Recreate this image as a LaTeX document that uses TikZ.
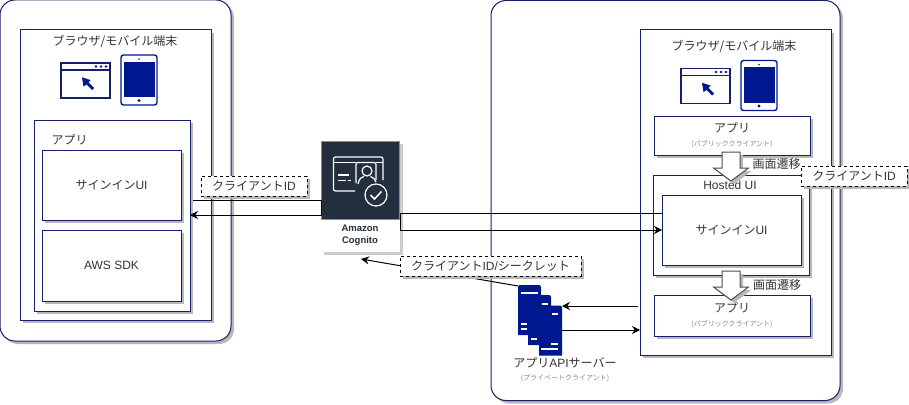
\documentclass[tikz,border=0pt]{standalone}
\usepackage{fontspec}
\setmainfont{Liberation Sans}
\newfontfamily\cjk{Noto Sans CJK JP}
\newcommand{\jp}[1]{{\cjk #1}}
\usepackage{xcolor}
\usetikzlibrary{shapes,arrows.meta,positioning,calc,shadows}
\definecolor{navyline}{HTML}{14206A}
\definecolor{navyfill}{HTML}{00188F}
\definecolor{cogdark}{HTML}{232F3E}
\definecolor{txtgray}{HTML}{333333}
\definecolor{subgray}{HTML}{8A8A8A}

\begin{document}
\begin{tikzpicture}[x=1pt, y=-1pt, >={Stealth[length=8pt,width=8pt]}]
    \tikzstyle{boxshadow} = [drop shadow={shadow xshift=3pt, shadow yshift=-3pt, fill=black!28, opacity=1}]
    \tikzstyle{box} = [rectangle, draw=navyline, line width=1pt, fill=white, inner sep=0pt, outer sep=0pt, anchor=north west, boxshadow, text=txtgray, align=center, font=\fontsize{12}{14}\selectfont]
    \tikzstyle{outer} = [box, rounded corners=15pt]
    \tikzstyle{label} = [inner sep=0pt, text=txtgray, font=\fontsize{12}{14}\selectfont]
    \tikzstyle{tag} = [rectangle, draw=black, dashed, line width=0.8pt, fill=white, inner sep=0pt, outer sep=0pt, anchor=north west, text=txtgray, font=\fontsize{12}{14}\selectfont, boxshadow]
    \tikzstyle{line} = [draw=black, line width=1pt]
    \newcommand{\sub}[1]{\fontsize{7}{8}\selectfont\color{subgray}\jp{#1}}
    \tikzset{
        devices/.pic={
            \draw[navyline, line width=1.1pt, fill=white] (0,8) rectangle (49,43);
            \draw[navyline, line width=1.1pt] (0,15) -- (49,15);
            \foreach \dx in {35,40,45} \fill[navyfill] (\dx,11.5) circle (1.3);
            \fill[navyfill] (21,22.3) -- (29.5,25) -- (27.5,27.5) -- (33,33) -- (31,35) -- (25.5,29.5) -- (22.5,31.5) -- cycle;
            \draw[navyfill, line width=1.4pt, fill=white, rounded corners=2.5pt] (60,0) rectangle (96,50);
            \fill[navyfill] (63,6.5) rectangle (93.5,42);
            \fill[navyfill] (78,4) circle (0.9);
            \fill[navyfill] (78,45.5) circle (1.6);
        },
        blade/.pic={
            \fill[navyfill] (0,50) [rounded corners=2pt] -- (0,0) -- (23,0) [sharp corners] -- (23,50) -- cycle;
        },
        jump/.pic={
            \filldraw[draw=black!70, fill=white, line width=1pt, boxshadow] (-9,0) -- (9,0) -- (9,16) -- (17.5,16) -- (0,29) -- (-17.5,16) -- (-9,16) -- cycle;
        }
    }

    \useasboundingbox (0,0) rectangle (909,404);

    % left side
    \node [outer, minimum width=231pt, minimum height=341pt] (clientL) at (0,0) {};
    \node [box, minimum width=191pt, minimum height=290pt] (browserL) at (20,30) {};
    \node [label] (browserLtxt) at (115,41) {\jp{ブラウザ/モバイル端末}};
    \pic at (61,55) {devices};
    \node [box, minimum width=156pt, minimum height=191pt] (appL) at (34,120) {};
    \node [label] (appLtxt) at (69.5,140) {\jp{アプリ}};
    \node [box, minimum width=139pt, minimum height=70pt] (signinL) at (42,150) {\jp{サインイン}UI};
    \node [box, minimum width=139pt, minimum height=71pt, below=10pt of signinL.south west, anchor=north west] (sdk) {AWS SDK};

    % right side
    \node [outer, minimum width=349pt, minimum height=400pt] (clientR) at (491,0.5) {};
    \node [box, minimum width=191pt, minimum height=325pt] (browserR) at (640,30) {};
    \node [label] (browserRtxt) at (734,46) {\jp{ブラウザ/モバイル端末}};
    \pic at (681,60.5) {devices};
    \node [box, minimum width=156pt, minimum height=39pt] (appTop) at (654,116) {\jp{アプリ}\\[0pt]\sub{(パブリッククライアント)}};
    \node [box, minimum width=156pt, minimum height=100pt] (hosted) at (653,175) {};
    \node [label] (hostedtxt) at (730,185) {Hosted UI};
    \node [box, minimum width=139pt, minimum height=70pt] (signinR) at (662,195) {\jp{サインイン}UI};
    \node [box, minimum width=156pt, minimum height=41pt] (appBot) at (654,295) {\jp{アプリ}\\[0pt]\sub{(パブリッククライアント)}};

    % page jumps
    \pic at (731,152) {jump};
    \pic at (731,271) {jump};
    \node [label] (jumpAtxt) at (776.5,164) {\jp{画面遷移}};
    \node [label] (jumpBtxt) at (777,285) {\jp{画面遷移}};

    % cognito
    \node [rectangle, fill=white, minimum width=79pt, minimum height=111pt, inner sep=0pt, outer sep=0pt, anchor=north west, drop shadow={shadow xshift=2.5pt, shadow yshift=-2.5pt, fill=black!20, opacity=1}] (cogcard) at (321,141) {};
    \node [rectangle, fill=cogdark, draw=black!45, line width=0.6pt, minimum width=78pt, minimum height=78pt, inner sep=0pt, outer sep=0pt, anchor=north west] (cogicon) at (321.5,141.5) {};
    \node [inner sep=0pt, text=cogdark, align=center, font=\fontsize{9.5}{12}\selectfont\bfseries] (cogtxt) at (360,235) {Amazon\\Cognito};
    \begin{scope}[white, line width=1.2pt, rounded corners=2pt]
        \draw (355,191) -- (333.5,191) -- (333.5,157) -- (383,157) -- (383,180);
        \draw (333.5,162.5) -- (356,162.5);
        \draw (376,162.5) -- (383,162.5);
        \draw (356,183) -- (356,162.5) -- (376,162.5) -- (376,180);
        \draw (338,175) -- (349,175);
        \draw (338,180.5) -- (346,180.5);
        \draw (348,180.5) -- (351,180.5);
    \end{scope}
    \draw[white, line width=1.2pt] (367,171) circle (5);
    \draw[white, line width=1.2pt] (358,184) .. controls (359,178) and (362,177) .. (364,176.5);
    \draw[white, line width=1.2pt] (376,182) .. controls (375,179) and (373,177) .. (370.5,176.5);
    \draw[white, line width=1.2pt, fill=cogdark] (376,195) circle (11);
    \draw[white, line width=1.5pt] (370.5,195) -- (374.5,199) -- (381.5,191.5);

    % api server
    \pic at (518,285) {blade};
    \pic at (528,295) {blade};
    \pic at (539,305.5) {blade};
    \node [minimum width=44pt, minimum height=70pt, inner sep=0pt, outer sep=0pt, anchor=north west] (server) at (518,285) {};
    \foreach \xa/\xb/\ya in {521/538/293, 542/548/304, 552/558/314, 521/527/324, 521/527/329, 531/537/339, 551/558/344, 541/558/349}
        \draw[white, line width=1.3pt] (\xa,\ya) -- (\xb,\ya);
    \node [label] (servertxt) at (565,363) {\jp{アプリ}API\jp{サーバー}};
    \node [inner sep=0pt] (serversub) at (565,378) {\sub{(プライベートクライアント)}};

    % connectors
    \coordinate (cogL1) at (cogicon.west |- 0,200);
    \coordinate (cogL2) at (cogicon.west |- 0,215);
    \coordinate (cogR1) at (cogcard.east |- 0,213);
    \coordinate (cogR2) at (cogcard.east |- 0,230);
    \coordinate (startL) at (193,200);
    \coordinate (secretEnd) at (361,259);
    \coordinate (serverNW) at (518,286);
    \coordinate (serverIn) at (562,306);
    \coordinate (serverOut) at (562,330);
    \coordinate (browserIn) at (638,306);
    \coordinate (browserOut) at (640,330);
    \path [line, ->] (startL) -- (cogL1) -- (cogL2) -- (appL.east |- cogL2);
    \path [line, ->] (signinR.west |- cogR1) -- (cogR1) -- (cogR2) -- (signinR.west |- cogR2);
    \path [line, ->] (serverNW) -- (secretEnd);
    \path [line, ->] (browserIn) -- (serverIn);
    \path [line, ->] (serverOut) -- (browserOut);

    % tags
    \node [tag, minimum width=106pt, minimum height=20pt] (idL) at (201,176) {\jp{クライアント}ID};
    \node [tag, minimum width=106pt, minimum height=20pt] (idR) at (801,166) {\jp{クライアント}ID};
    \node [tag, minimum width=181pt, minimum height=20pt] (idS) at (400,256) {\jp{クライアント}ID/\jp{シークレット}};
\end{tikzpicture}
\end{document}
